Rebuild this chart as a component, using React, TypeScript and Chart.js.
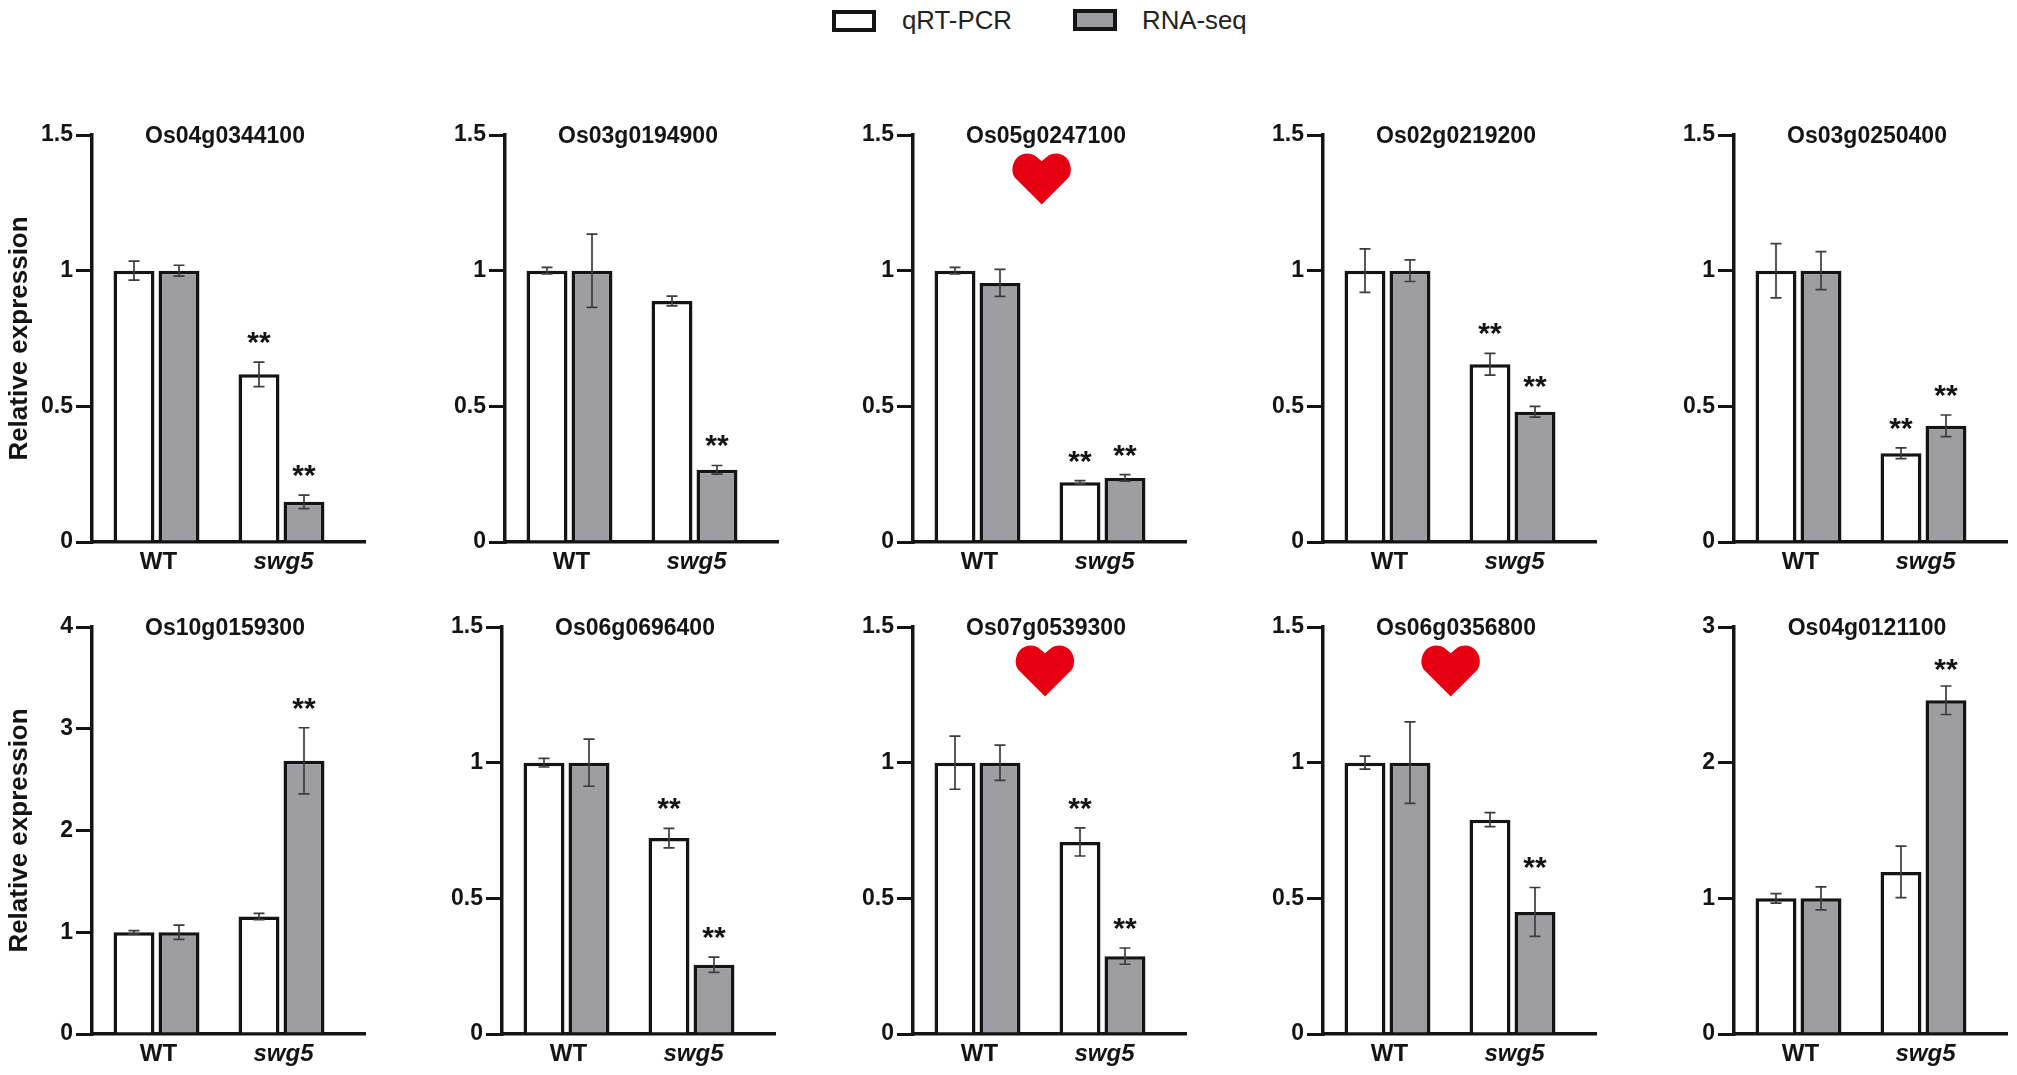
import React, { useEffect, useRef } from "react";
import { Chart, registerables } from "chart.js";

Chart.register(...registerables);

const FONT = '"Liberation Sans", Arial, sans-serif';
const categories = ["WT", "swg5"];
const seriesNames = ["qRT-PCR", "RNA-seq"];
const yLabel = "Relative expression";

const genes = ["Os04g0344100", "Os03g0194900", "Os05g0247100", "Os02g0219200", "Os03g0250400", "Os10g0159300", "Os06g0696400", "Os07g0539300", "Os06g0356800", "Os04g0121100"];
const yMaxes = [1.5, 1.5, 1.5, 1.5, 1.5, 4, 1.5, 1.5, 1.5, 3];
const ySteps = [0.5, 0.5, 0.5, 0.5, 0.5, 1, 0.5, 0.5, 0.5, 1];

const qpcrValues = [[1, 0.618], [1, 0.888], [1, 0.22], [1, 0.655], [1, 0.327], [1, 1.155], [1, 0.722], [1, 0.708], [1, 0.79], [1, 1.195]];
const seqValues = [[1, 0.148], [1, 0.266], [0.955, 0.236], [1, 0.48], [1, 0.428], [1, 2.685], [1, 0.255], [1, 0.287], [1, 0.45], [1, 2.46]];
const qpcrErrors = [[0.035, 0.045], [0.012, 0.018], [0.012, 0.006], [0.08, 0.04], [0.1, 0.02], [0.015, 0.03], [0.016, 0.036], [0.098, 0.052], [0.024, 0.026], [0.035, 0.19]];
const seqErrors = [[0.02, 0.025], [0.135, 0.016], [0.05, 0.012], [0.04, 0.02], [0.07, 0.04], [0.07, 0.325], [0.087, 0.028], [0.065, 0.03], [0.15, 0.09], [0.085, 0.105]];
const qpcrStars = [true, false, true, true, true, false, true, true, false, false];
const seqStars = [true, true, true, true, true, true, true, true, true, true];
const hearts = [false, false, true, false, false, false, false, true, true, false];
const heartShift = [0, 0, 128.7, 0, 0, 0, 0, 132, 127.7, 0];
const starGap = [10, 10, 10, 10, 10, 10, 10, 10, 10, 7];

const axisXs = [92, 505, 913, 1323, 1734, 92, 502, 913, 1323, 1734];
const rowTops = [135, 627];

const YAXIS_W = 92;
const PLOT_W = 273;
const PLOT_H = 407;
const PAD_TOP = 40;
const XAXIS_H = 41;
const UNIT = 125; // px between the two category centres
const FIRST = 64.5; // px from y axis to first category centre
const INK = "#141414";
const GREY = "#9e9ea2";

const panelPlugin = (i: number) => ({
  id: "panelExtras" + i,
  afterDatasetsDraw(chart: any) {
    const ctx = chart.ctx;
    const y = chart.scales.y;
    const area = chart.chartArea;
    const errs = [qpcrErrors[i], seqErrors[i]];
    const vals = [qpcrValues[i], seqValues[i]];
    ctx.save();
    for (let d = 0; d < 2; d++) {
      const meta = chart.getDatasetMeta(d);
      for (let c = 0; c < 2; c++) {
        const x = meta.data[c].x;
        const top = y.getPixelForValue(vals[d][c] + errs[d][c]);
        const bot = y.getPixelForValue(vals[d][c] - errs[d][c]);
        ctx.strokeStyle = "#3c3c3c";
        ctx.lineWidth = 1.7;
        ctx.beginPath();
        ctx.moveTo(x, top);
        ctx.lineTo(x, bot);
        ctx.moveTo(x - 5.5, top);
        ctx.lineTo(x + 5.5, top);
        ctx.moveTo(x - 5.5, bot);
        ctx.lineTo(x + 5.5, bot);
        ctx.stroke();
        const starred = c === 1 && (d === 0 ? qpcrStars[i] : seqStars[i]);
        if (starred) {
          ctx.fillStyle = INK;
          ctx.font = `bold 30px ${FONT}`;
          ctx.textAlign = "center";
          ctx.textBaseline = "alphabetic";
          ctx.fillText("**", x, top - starGap[i]);
        }
      }
    }
    ctx.fillStyle = INK;
    ctx.font = `bold 23px ${FONT}`;
    ctx.textAlign = "center";
    ctx.textBaseline = "middle";
    ctx.fillText(genes[i], area.left + 133, area.top + 2);
    if (hearts[i]) {
      const cx = area.left + heartShift[i];
      const t = area.top + 18.5;
      const w = 30;
      const h = 51;
      ctx.fillStyle = "#e60012";
      ctx.beginPath();
      ctx.moveTo(cx, t + h);
      ctx.lineTo(cx - w + 3, t + h * 0.47);
      ctx.bezierCurveTo(cx - w - 3, t + h * 0.28, cx - w + 4, t, cx - w * 0.5, t);
      ctx.bezierCurveTo(cx - w * 0.25, t, cx - 6, t + 3, cx, t + h * 0.15);
      ctx.bezierCurveTo(cx + 6, t + 3, cx + w * 0.25, t, cx + w * 0.5, t);
      ctx.bezierCurveTo(cx + w - 4, t, cx + w + 3, t + h * 0.28, cx + w - 3, t + h * 0.47);
      ctx.closePath();
      ctx.fill();
    }
    ctx.restore();
  },
});

function Panel({ i }: { i: number }) {
  const ref = useRef<HTMLCanvasElement>(null);
  const top = rowTops[i < 5 ? 0 : 1] - PAD_TOP;
  const left = axisXs[i] - YAXIS_W;
  const width = YAXIS_W + PLOT_W + 5;
  const height = PAD_TOP + PLOT_H + XAXIS_H;

  useEffect(() => {
    const border = { display: true, width: 3.5, color: INK };
    const chart = new Chart(ref.current as HTMLCanvasElement, {
      type: "bar",
      data: {
        datasets: [
          {
            label: seriesNames[0],
            data: qpcrValues[i].map((v, c) => ({ x: c, y: v })),
            backgroundColor: "#ffffff",
            borderColor: INK,
            borderWidth: 3.5,
            categoryPercentage: 0.72,
            barPercentage: 0.91,
          },
          {
            label: seriesNames[1],
            data: seqValues[i].map((v, c) => ({ x: c, y: v })),
            backgroundColor: GREY,
            borderColor: INK,
            borderWidth: 3.5,
            categoryPercentage: 0.72,
            barPercentage: 0.91,
          },
        ],
      },
      options: {
        responsive: false,
        animation: false,
        devicePixelRatio: 1,
        layout: { padding: { top: PAD_TOP, left: 0, right: 5, bottom: 0 } },
        plugins: { legend: { display: false }, title: { display: false }, tooltip: { enabled: false } },
        scales: {
          x: {
            type: "linear",
            offset: false,
            min: -FIRST / UNIT,
            max: (PLOT_W - FIRST) / UNIT,
            bounds: "data",
            afterBuildTicks: (s: any) => {
              s.ticks = categories.map((_, c) => ({ value: c }));
            },
            afterFit: (s: any) => {
              s.height = XAXIS_H;
            },
            border,
            grid: { display: true, drawOnChartArea: false, drawTicks: false, offset: false, color: "rgba(0,0,0,0)" },
            ticks: {
              autoSkip: false,
              maxRotation: 0,
              padding: 6,
              labelOffset: 2,
              color: INK,
              callback: (v: any) => categories[v as number],
              font: (c: any) => ({ family: FONT, size: 24, weight: "bold", style: c.index === 1 ? "italic" : "normal" }),
            },
          },
          y: {
            type: "linear",
            min: 0,
            max: yMaxes[i],
            afterFit: (s: any) => {
              s.width = YAXIS_W;
            },
            border,
            grid: { display: true, drawOnChartArea: false, drawTicks: true, tickLength: 16, lineWidth: 3, color: INK },
            title: {
              display: i === 0 || i === 5,
              text: yLabel,
              color: INK,
              font: { family: FONT, size: 26, weight: "bold" },
              padding: { top: 4, bottom: 0 },
            },
            ticks: {
              stepSize: ySteps[i],
              padding: 3,
              color: INK,
              callback: (v: any) => String(v),
              font: { family: FONT, size: 23, weight: "bold" },
            },
          },
        },
      } as any,
      plugins: [panelPlugin(i)],
    } as any);
    return () => chart.destroy();
  }, [i]);

  return <canvas ref={ref} width={width} height={height} style={{ position: "absolute", left, top, width, height, display: "block" }} />;
}

const legendItems = [
  { name: seriesNames[0], fill: "#ffffff", boxLeft: 832, boxTop: 10, textLeft: 902 },
  { name: seriesNames[1], fill: GREY, boxLeft: 1073, boxTop: 9, textLeft: 1142 },
];

export default function App() {
  return (
    <div style={{ position: "absolute", left: 0, top: 0, width: 2017, height: 1075, background: "#fff", overflow: "hidden" }}>
      {legendItems.map((it) => (
        <React.Fragment key={it.name}>
          <div
            style={{
              position: "absolute",
              left: it.boxLeft,
              top: it.boxTop,
              width: 44,
              height: 22,
              boxSizing: "border-box",
              border: `4px solid ${INK}`,
              background: it.fill,
            }}
          />
          <div
            style={{
              position: "absolute",
              left: it.textLeft,
              top: 4,
              height: 32,
              lineHeight: "32px",
              fontFamily: FONT,
              fontSize: 25.8,
              color: "#222",
              whiteSpace: "nowrap",
            }}
          >
            {it.name}
          </div>
        </React.Fragment>
      ))}
      {genes.map((_, i) => (
        <Panel key={i} i={i} />
      ))}
    </div>
  );
}
